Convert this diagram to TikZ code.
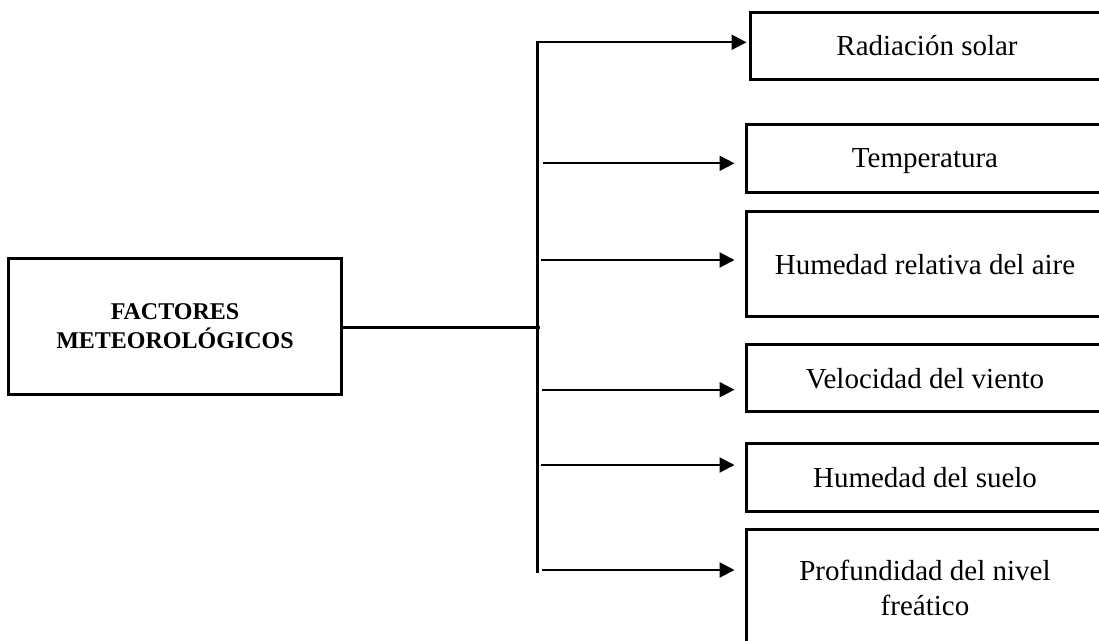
\documentclass[tikz,border=0pt]{standalone}
\usepackage{fontspec}
\setmainfont{Liberation Serif}
\usetikzlibrary{arrows.meta}
\begin{document}
\begin{tikzpicture}[x=1pt,y=-1pt,
  box/.style={draw, rectangle, line width=3pt, inner sep=0pt,
    font=\fontsize{29pt}{35pt}\selectfont},
  oneline/.style={text depth=0pt},
  headbox/.style={box, align=center,
    font=\fontsize{24pt}{28.3pt}\selectfont\bfseries},
  link/.style={line width=2.1pt},
  branch/.style={link, -{Triangle[length=15pt,width=15pt]}}]
  % canvas
  \useasboundingbox (0,0) rectangle (1099,640);
  \fill[white] (0,0) rectangle (1099,640);
  \clip (0,0) rectangle (1099,640);

  % main concept
  \node[headbox, minimum width=333.4pt, minimum height=135.7pt] (fm) at (175,326.2)
    {FACTORES\\METEOROLÓGICOS};

  % factor boxes
  \node[box, oneline, minimum width=354pt, minimum height=67pt] (rad) at (927,45.8) {Radiación solar};
  \node[box, oneline, minimum width=358pt, minimum height=68pt] (temp) at (925,158.2) {Temperatura};
  \node[box, oneline, minimum width=358pt, minimum height=105.3pt] (hr) at (925,264.3) {Humedad relativa del aire};
  \node[box, oneline, minimum width=358pt, minimum height=67.5pt] (vel) at (925,378) {Velocidad del viento};
  \node[box, oneline, minimum width=358pt, minimum height=67.5pt] (hs) at (925,477.7) {Humedad del suelo};
  \node[box, align=center, minimum width=358pt, minimum height=116.2pt] (prof) at (925,587.6)
    {Profundidad del nivel\\freático};

  % trunk and branch origins
  \coordinate (ttop) at (537.5,42.3);
  \coordinate (tbot) at (537.5,573.3);
  \coordinate (tmid) at (540,327.5);
  \coordinate (b2) at (543,163.3);
  \coordinate (b3) at (541,260);
  \coordinate (b4) at (542,389.7);
  \coordinate (b5) at (541,465);
  \coordinate (b6) at (542,570);

  % connectors
  \draw[link] (fm.east |- tmid) -- (tmid);
  \draw[branch, shorten >=2pt] (tbot) -- (ttop) -- (ttop -| rad.west);
  \draw[branch, shorten >=10pt] (b2) -- (b2 -| temp.west);
  \draw[branch, shorten >=10pt] (b3) -- (b3 -| hr.west);
  \draw[branch, shorten >=10pt] (b4) -- (b4 -| vel.west);
  \draw[branch, shorten >=10pt] (b5) -- (b5 -| hs.west);
  \draw[branch, shorten >=10pt] (b6) -- (b6 -| prof.west);
\end{tikzpicture}
\end{document}
